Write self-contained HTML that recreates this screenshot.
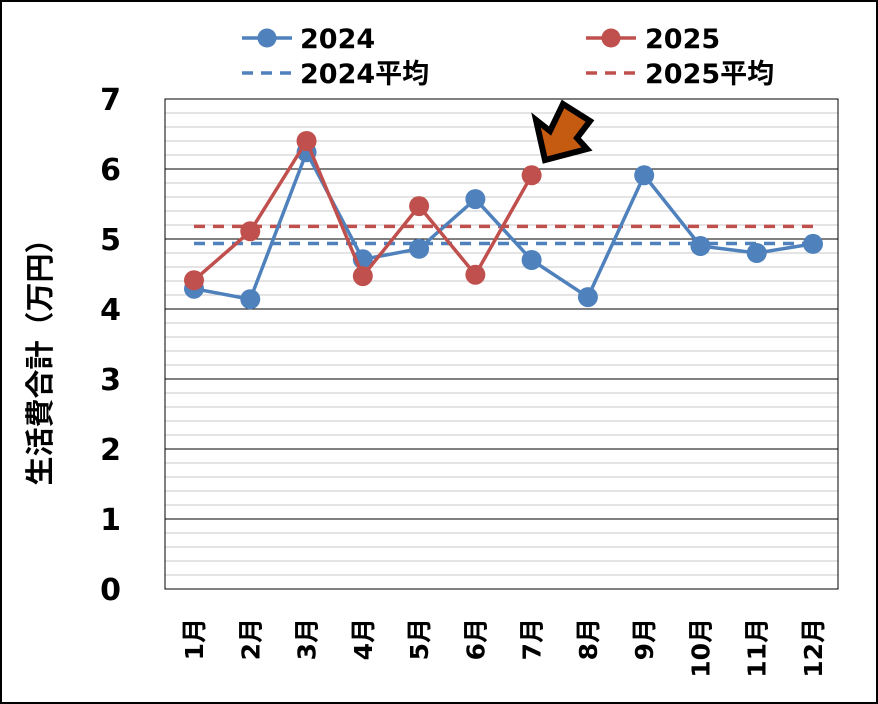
<!DOCTYPE html>
<html><head><meta charset="utf-8"><style>
body{margin:0;background:#fff}
svg{display:block;font-family:"DejaVu Sans","Noto Sans CJK JP",sans-serif;font-weight:bold}
</style></head><body>
<svg id="c" width="878" height="704">
<rect x="1" y="1" width="876" height="702" fill="#fff" stroke="#000" stroke-width="2"/>
<g id="grid"></g><g id="ax"></g><g id="ser"></g>
<text transform="translate(50,355) rotate(-90)" text-anchor="middle" font-size="29" fill="#000">生活費合計（万円）</text>
<g>
<g><line x1="242" y1="38" x2="292" y2="38" stroke="#4f81bd" stroke-width="3.5"/><circle cx="267" cy="38" r="9.5" fill="#4f81bd"/><text x="300" y="48" font-size="27">2024</text></g>
<g><line x1="586" y1="38" x2="636" y2="38" stroke="#c0504d" stroke-width="3.5"/><circle cx="611" cy="38" r="9.5" fill="#c0504d"/><text x="645" y="48" font-size="27">2025</text></g>
<g><line x1="242" y1="73" x2="292" y2="73" stroke="#4f81bd" stroke-width="3.5" stroke-dasharray="11,8"/><text x="300" y="83" font-size="27">2024平均</text></g>
<g><line x1="586" y1="73" x2="636" y2="73" stroke="#c0504d" stroke-width="3.5" stroke-dasharray="11,8"/><text x="645" y="83" font-size="27">2025平均</text></g>
</g>
<polygon points="563,104 590,121 577,138 587,149 545,160 536,120 550,131" fill="#c55a11" stroke="#000" stroke-width="6" stroke-linejoin="miter"/>
</svg>
<script>
const categories=["1月","2月","3月","4月","5月","6月","7月","8月","9月","10月","11月","12月"];
const values2024=[4.29,4.14,6.24,4.71,4.86,5.57,4.7,4.17,5.91,4.9,4.8,4.93];
const values2025=[4.41,5.11,6.4,4.47,5.47,4.49,5.91];
const yTicks=[0,1,2,3,4,5,6,7];
const NS="http://www.w3.org/2000/svg";
const L=165,R=838,T=99,B=589,ymax=7;
const x0=194,x1=813;
const xs=i=>x0+(x1-x0)*i/(categories.length-1);
const ys=v=>B-(v/ymax)*(B-T);
function mk(p,tag,at){const e=document.createElementNS(NS,tag);for(const k in at)e.setAttribute(k,at[k]);p.appendChild(e);return e;}
const grid=document.getElementById('grid'),ax=document.getElementById('ax'),ser=document.getElementById('ser');
for(let m=0;m<=ymax*5;m++){if(m%5===0)continue;const y=ys(m/5);
const l=mk(grid,'line',{x1:L,x2:R,y1:y,y2:y,stroke:'#c8c8c8','stroke-width':1});

}
yTicks.forEach(v=>{const y=ys(v);
const l=mk(grid,'line',{x1:L,x2:R,y1:y,y2:y,stroke:'#000','stroke-width':1});


const t=mk(ax,'text',{x:121,y:y+11,'text-anchor':'end','font-size':30});t.textContent=v;

});
const fr=mk(grid,'rect',{x:L,y:T,width:R-L,height:B-T,fill:'none',stroke:'#000','stroke-width':1});


categories.forEach((c,i)=>{const t=mk(ax,'text',{transform:`translate(${xs(i)+9},618) rotate(-90)`,'text-anchor':'end','font-size':25});t.textContent=c;

});
function avgLine(vals,col,name){const a=vals.reduce((s,v)=>s+v,0)/vals.length;const y=ys(a);
const l=mk(ser,'line',{x1:xs(0),x2:xs(categories.length-1),y1:y,y2:y,stroke:col,'stroke-width':3.5,'stroke-dasharray':'11,8'});

}
avgLine(values2024,'#4f81bd','avg-line-2024');
avgLine(values2025,'#c0504d','avg-line-2025');
function series(vals,col,name){
const p=mk(ser,'polyline',{points:vals.map((v,i)=>xs(i)+','+ys(v)).join(' '),fill:'none',stroke:col,'stroke-width':3.5});


vals.forEach((v,i)=>{const c=mk(ser,'circle',{cx:xs(i),cy:ys(v),r:10,fill:col});

});}
series(values2024,'#4f81bd','series-2024');
series(values2025,'#c0504d','series-2025');
</script>
</body></html>
